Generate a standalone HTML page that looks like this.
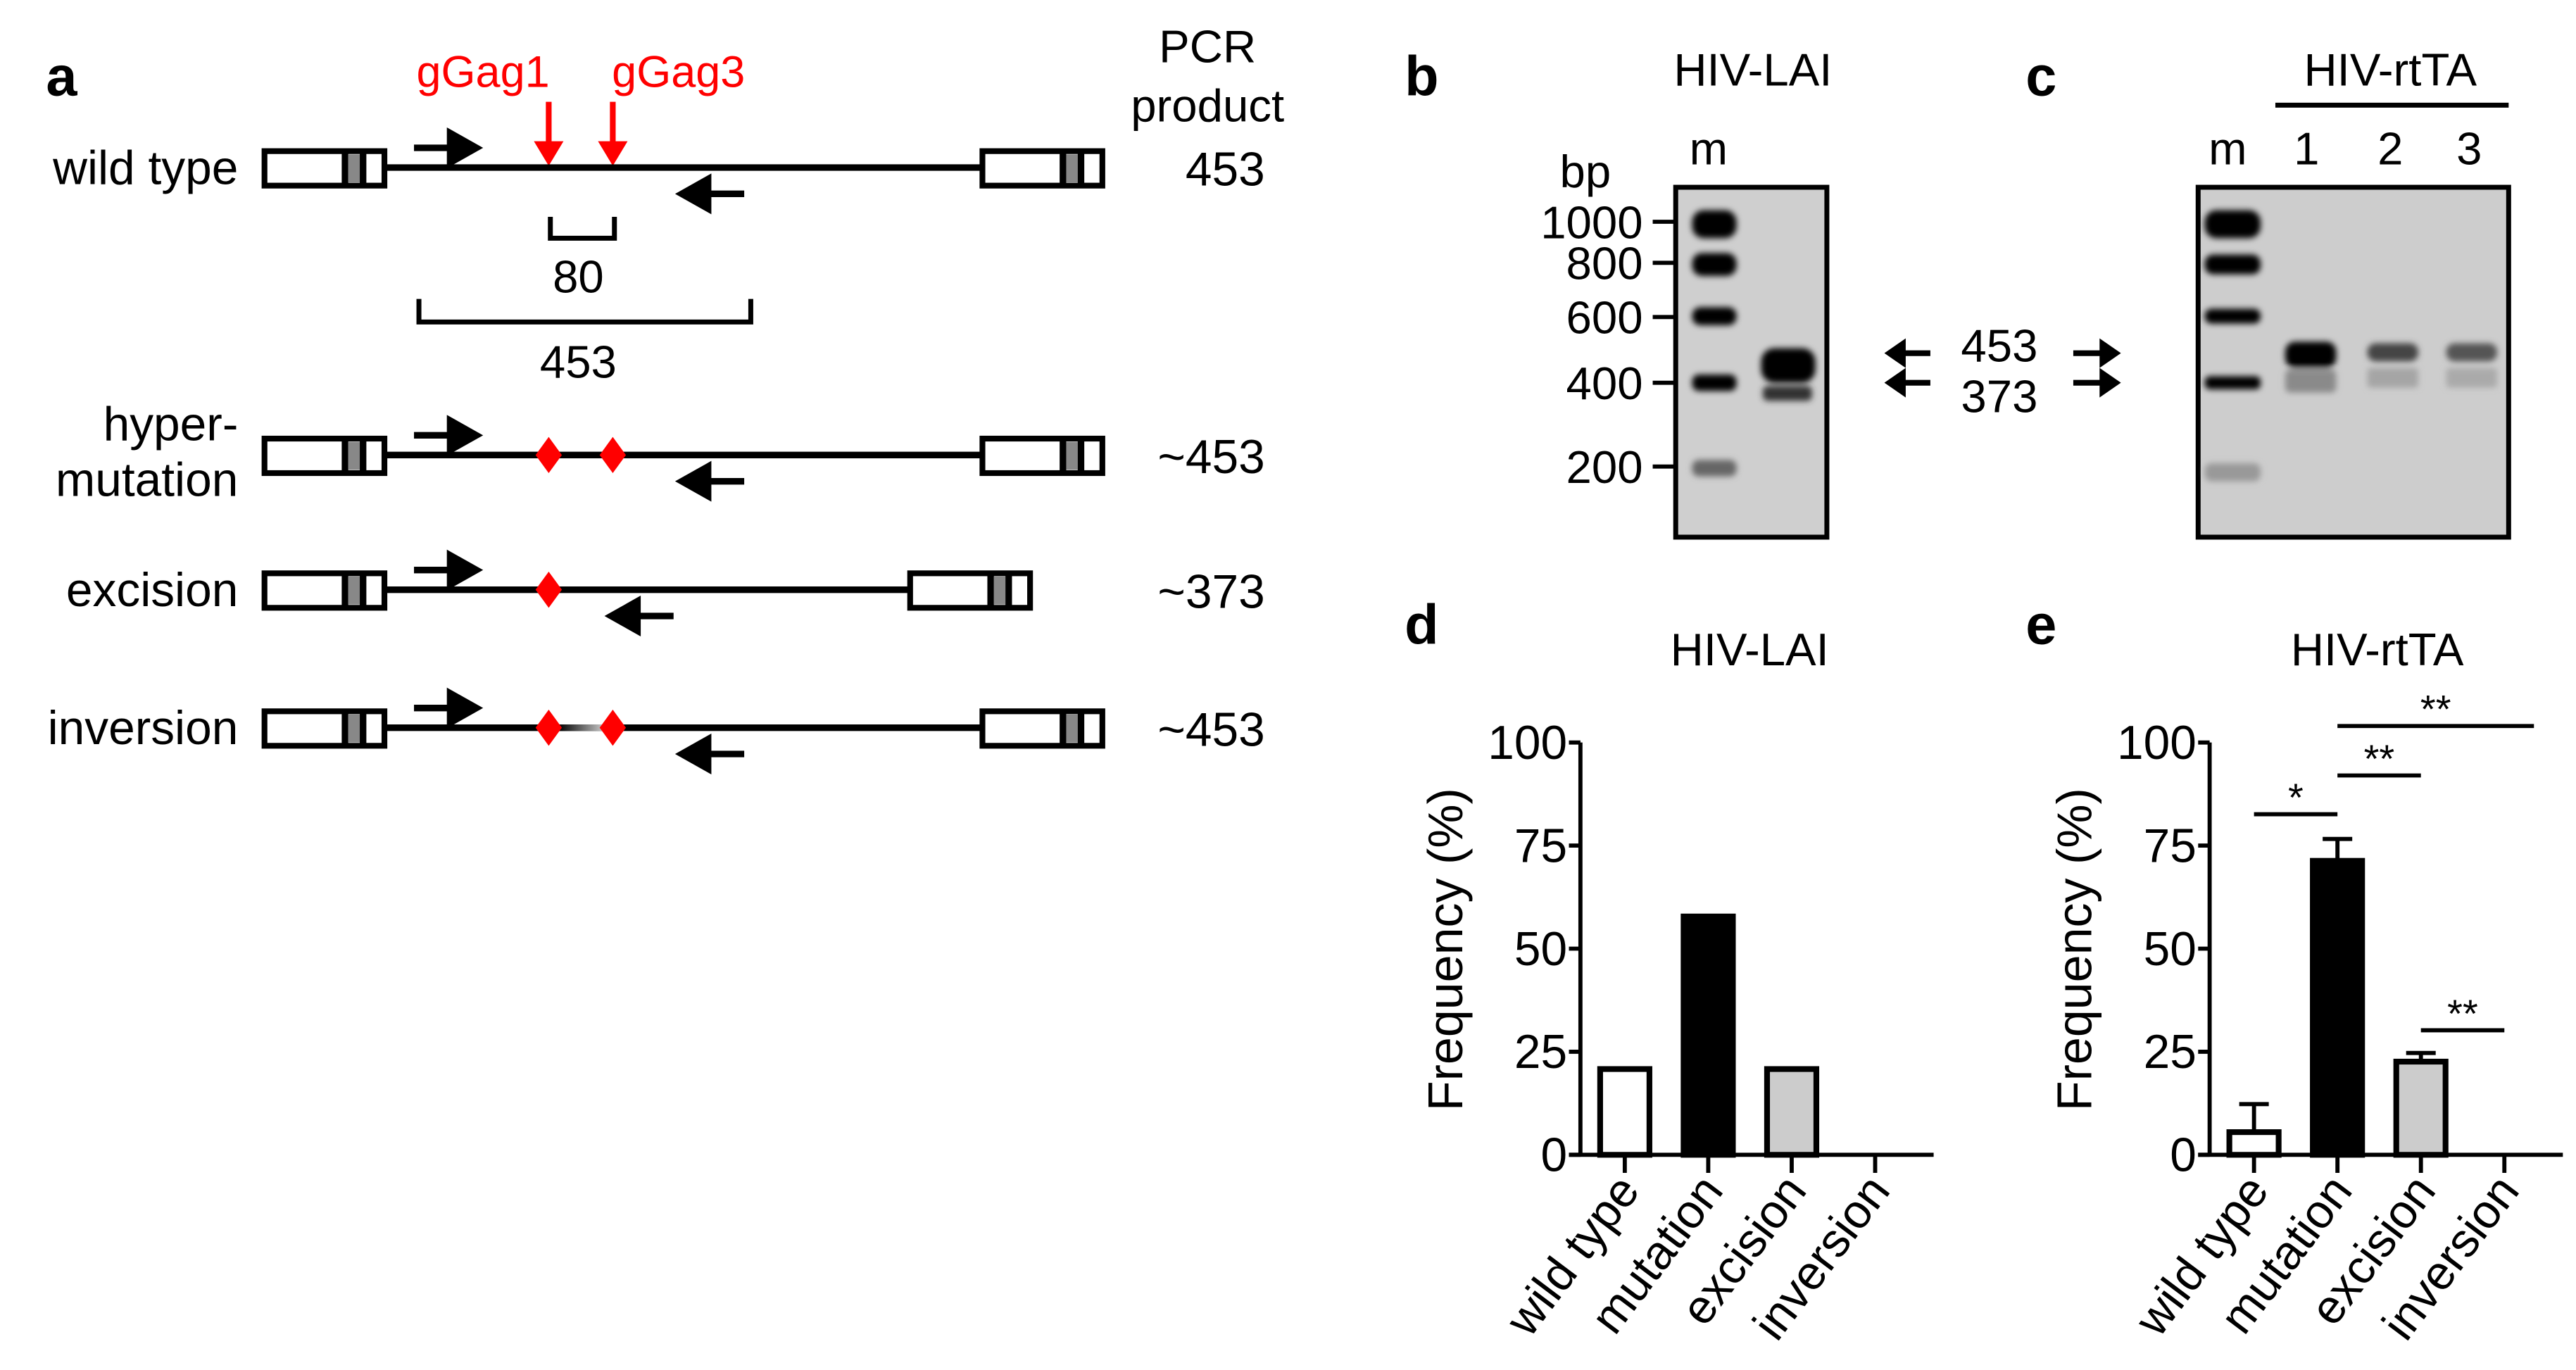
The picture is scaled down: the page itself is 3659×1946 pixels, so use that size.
<!DOCTYPE html>
<html><head><meta charset="utf-8"><style>
html,body{margin:0;padding:0;background:#fff}
svg{display:block}
text{font-family:"Liberation Sans",sans-serif}
</style></head><body>
<svg id="fig" width="3659" height="1946" viewBox="0 0 1568 834" preserveAspectRatio="none" xmlns="http://www.w3.org/2000/svg">
<defs>
<filter id="blur" x="-50%" y="-100%" width="200%" height="300%"><feGaussianBlur stdDeviation="1.8"/></filter>
<linearGradient id="inv" x1="0" x2="1"><stop offset="0" stop-color="#000"/><stop offset="1" stop-color="#ccc"/></linearGradient>
</defs>

<g id="panel-a">
<text x="28" y="58" font-size="34" font-weight="bold">a</text>
<text x="294" y="53" font-size="27" fill="#f00" text-anchor="middle">gGag1</text>
<text x="413" y="53" font-size="27" fill="#f00" text-anchor="middle">gGag3</text>
<text x="735" y="38" font-size="28" text-anchor="middle">PCR</text>
<text x="735" y="74" font-size="28" text-anchor="middle">product</text>
<path d="M334 62V88M373 62V88" stroke="#f00" stroke-width="3.5"/>
<path d="M325 86L343 86L334 101ZM364 86L382 86L373 101Z" fill="#f00"/>
<g id="rows"></g>
<path d="M335 132V145H374V132" fill="none" stroke="#000" stroke-width="3"/>
<text x="352" y="178" font-size="28" text-anchor="middle">80</text>
<path d="M255 182V196H457V182" fill="none" stroke="#000" stroke-width="3"/>
<text x="352" y="230" font-size="28" text-anchor="middle">453</text>
</g>

<g id="panel-b">
<text x="855" y="58" font-size="34" font-weight="bold">b</text>
<text x="1067" y="52" font-size="28" text-anchor="middle">HIV-LAI</text>
<text x="1040" y="100" font-size="28" text-anchor="middle">m</text>
<text x="965" y="114" font-size="28" text-anchor="middle">bp</text>
<rect x="1020" y="114" width="92" height="213" fill="#cfcfcf" stroke="#000" stroke-width="3"/>
<g id="marker-labels"></g>
<g filter="url(#blur)">
<rect x="1030" y="128" width="27" height="17" rx="7" fill="#000"/>
<rect x="1030" y="154" width="27" height="14" rx="6" fill="#000"/>
<rect x="1030" y="187" width="27" height="11" rx="5" fill="#000"/>
<rect x="1030" y="228" width="27" height="10" rx="4" fill="#000"/>
<rect x="1030" y="280" width="27" height="10" rx="4" fill="#666"/>
<rect x="1072" y="212" width="33" height="21" rx="8" fill="#000"/>
<rect x="1073" y="235" width="30" height="9" rx="3" fill="#333"/>
</g>
<text x="1217" y="220" font-size="28" text-anchor="middle">453</text>
<text x="1217" y="251" font-size="28" text-anchor="middle">373</text>
<path d="M1175 215H1158M1175 233H1158" stroke="#000" stroke-width="3.5"/>
<path d="M1147 215L1160 206V224ZM1147 233L1160 224V242Z" fill="#000"/>
<path d="M1262 215H1280M1262 233H1280" stroke="#000" stroke-width="3.5"/>
<path d="M1291 215L1278 206V224ZM1291 233L1278 224V242Z" fill="#000"/>
</g>
<g id="panel-c">
<text x="1233" y="58" font-size="34" font-weight="bold">c</text>
<text x="1455" y="52" font-size="28" text-anchor="middle">HIV-rtTA</text>
<line x1="1385" y1="64" x2="1527" y2="64" stroke="#000" stroke-width="3"/>
<text x="1356" y="100" font-size="28" text-anchor="middle">m</text>
<text x="1404" y="100" font-size="28" text-anchor="middle">1</text>
<text x="1455" y="100" font-size="28" text-anchor="middle">2</text>
<text x="1503" y="100" font-size="28" text-anchor="middle">3</text>
<rect x="1338" y="114" width="189" height="213" fill="#cdcdcd" stroke="#000" stroke-width="3"/>
<g filter="url(#blur)">
<rect x="1342" y="128" width="34" height="17" rx="7" fill="#000"/>
<rect x="1342" y="155" width="34" height="12" rx="5" fill="#000"/>
<rect x="1342" y="188" width="34" height="9" rx="4" fill="#000"/>
<rect x="1342" y="229" width="34" height="8" rx="3" fill="#000"/>
<rect x="1342" y="282" width="34" height="11" rx="4" fill="#999"/>
<rect x="1391" y="208" width="31" height="16" rx="6" fill="#000"/>
<rect x="1391" y="225" width="31" height="14" rx="3" fill="#8a8a8a"/>
<rect x="1441" y="209" width="31" height="11" rx="5" fill="#444"/>
<rect x="1441" y="224" width="31" height="12" rx="2" fill="#a5a5a5"/>
<rect x="1489" y="209" width="31" height="11" rx="5" fill="#555"/>
<rect x="1489" y="224" width="31" height="12" rx="2" fill="#aaa"/>
</g>
</g>

<text x="855" y="392" font-size="34" font-weight="bold">d</text>
<text x="1065" y="405" font-size="28" text-anchor="middle">HIV-LAI</text>
<text x="1233" y="392" font-size="34" font-weight="bold">e</text>
<text x="1447" y="405" font-size="28" text-anchor="middle">HIV-rtTA</text>
<g id="chart-d"></g>
<g id="chart-e"></g>
</svg>
<script>
const NS='http://www.w3.org/2000/svg';
const categories=['wild type','mutation','excision','inversion'];
const barFills=['#fff','#000','#ccc','#fff'];
const laiValues=[20.8,57.8,20.8,0];
const rtaValues=[5.5,71.3,22.6,0];
const rtaErrors=[6.8,5.3,2.1,0];
const yTicks=[0,25,50,75,100];
const sigFrom=[0,1,1,2];
const sigTo=[1,2,3,3];
const sigLevel=[82.6,92,104,30.2];
const sigText=['*','**','**','**'];
const markerBp=['1000','800','600','400','200'];
const markerY=[135,160,193,233,284];
const rowNames=['wild type','hypermutation','excision','inversion'];
const rowProducts=['453','~453','~373','~453'];

function mk(tag,attrs,parent,txt){const e=document.createElementNS(NS,tag);for(const k in attrs)e.setAttribute(k,attrs[k]);if(txt!==undefined)e.textContent=txt;parent.appendChild(e);return e;}

const ml=document.getElementById('marker-labels');
markerBp.forEach((b,i)=>{
  const t=mk('text',{x:1000,y:markerY[i]+10,'font-size':28,'text-anchor':'end'},ml,b);
  
  
  mk('line',{x1:1006,y1:markerY[i],x2:1019,y2:markerY[i],stroke:'#000','stroke-width':2.5},ml);
});

const rows=document.getElementById('rows');
const rowY=[102,277,359,443];
function box(x,y,g){
  mk('rect',{x:x,y:y-10,width:73,height:21,fill:'#fff',stroke:'#000','stroke-width':3.5},g);
  mk('rect',{x:x+47,y:y-10,width:4,height:21,fill:'#000'},g);
  mk('rect',{x:x+51,y:y-8,width:7,height:17,fill:'#888'},g);
  mk('rect',{x:x+58,y:y-10,width:4,height:21,fill:'#000'},g);
}
function diamond(x,y,g){mk('path',{d:`M${x} ${y-11}L${x+8} ${y}L${x} ${y+11}L${x-8} ${y}Z`,fill:'#f00'},g);}
rowNames.forEach((n,i)=>{
  const y=rowY[i];
  const g=mk('g',{},rows);
  
  
  const rightX = i===2?554:598;
  mk('line',{x1:235,y1:y,x2:rightX,y2:y,stroke:'#000','stroke-width':4},g);
  if(i===3) mk('rect',{x:340,y:y-2,width:28,height:4,fill:'url(#inv)'},g);
  box(161,y,g); box(rightX,y,g);
  mk('path',{d:`M252 ${y-12}H276M274 ${y-21}L290 ${y-12}L274 ${y-3}Z`,stroke:'#000','stroke-width':4,fill:'#000'},g);
  const rx=i===2?372:415;
  mk('path',{d:`M${rx+38} ${y+16}H${rx+14}M${rx+16} ${y+7}L${rx} ${y+16}L${rx+16} ${y+25}Z`,stroke:'#000','stroke-width':4,fill:'#000'},g);
  if(i>0){diamond(334,y,g); if(i!==2) diamond(373,y,g);}
  if(n==='hypermutation'){
    mk('text',{x:145,y:y-9,'font-size':29,'text-anchor':'end'},g,'hyper-');
    mk('text',{x:145,y:y+25,'font-size':29,'text-anchor':'end'},g,'mutation');
  } else mk('text',{x:145,y:y+10,'font-size':29,'text-anchor':'end'},g,n);
  mk('text',{x:770,y:y+11,'font-size':29,'text-anchor':'end'},g,rowProducts[i]);
});

function chart(id,axisX,values,errors,sig){
  const g=document.getElementById(id);
  const y0=703,y100=452;
  const ys=v=>y0-(y0-y100)*v/100;
  const xs=i=>axisX+27+50.8*i;
  mk('line',{x1:axisX,y1:y100,x2:axisX,y2:y0,stroke:'#000','stroke-width':2.5},g);
  mk('line',{x1:axisX-7,y1:y0,x2:axisX+215,y2:y0,stroke:'#000','stroke-width':2.5},g);
  yTicks.forEach(t=>{
    mk('line',{x1:axisX-7,y1:ys(t),x2:axisX,y2:ys(t),stroke:'#000','stroke-width':2.5},g);
    const tl=mk('text',{x:axisX-8,y:ys(t)+10,'font-size':29,'text-anchor':'end'},g,t);
    
    
  });
  const yl=mk('text',{x:0,y:0,'font-size':30,'text-anchor':'middle',transform:`translate(${axisX-72},578) rotate(-90)`},g,'Frequency (%)');
  
  
  categories.forEach((c,i)=>{
    const x=xs(i);
    mk('line',{x1:x,y1:y0,x2:x,y2:y0+11,stroke:'#000','stroke-width':2.5},g);
    if(values[i]>0){
      if(errors){mk('line',{x1:x,y1:ys(values[i]),x2:x,y2:ys(values[i]+errors[i]),stroke:'#000','stroke-width':2.5},g);
        mk('line',{x1:x-9,y1:ys(values[i]+errors[i]),x2:x+9,y2:ys(values[i]+errors[i]),stroke:'#000','stroke-width':2.5},g);}
      const b=mk('rect',{x:x-15,y:ys(values[i]),width:30,height:y0-ys(values[i]),fill:barFills[i],stroke:'#000','stroke-width':3.5},g);
      
      
    }
    const xl=mk('text',{x:0,y:0,'font-size':29,'text-anchor':'end',transform:`translate(${x+10},${y0+22}) rotate(-53)`},g,c);
    
    
  });
  if(sig){
    sigFrom.forEach((f,k)=>{
      const x1=xs(f),x2=xs(sigTo[k])+(k===2?18:0),y=ys(sigLevel[k]);
      mk('line',{x1:x1,y1:y,x2:x2,y2:y,stroke:'#000','stroke-width':2.5},g);
      const st=mk('text',{x:(x1+x2)/2,y:y-2,'font-size':24,'text-anchor':'middle'},g,sigText[k]);
      
      
    });
  }
}
chart('chart-d',962,laiValues,null,false);
chart('chart-e',1345,rtaValues,rtaErrors,true);
</script>
</body></html>
